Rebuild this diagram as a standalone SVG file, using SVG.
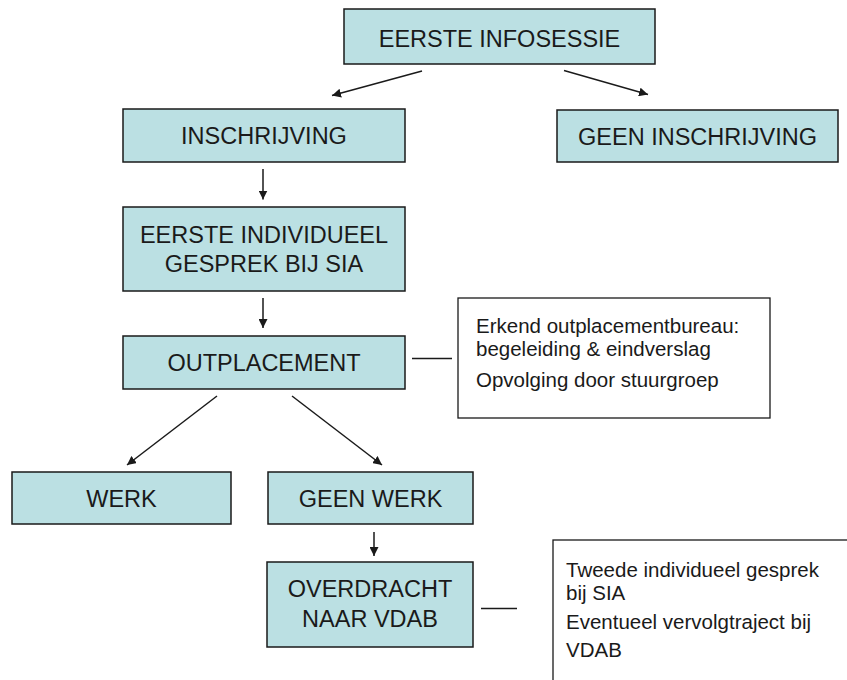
<svg xmlns="http://www.w3.org/2000/svg" width="847" height="680" viewBox="0 0 847 680">
<style>
.box{fill:#bbe0e3;stroke:#1a1a1a;stroke-width:1.5}
.note{fill:#ffffff;stroke:#1a1a1a;stroke-width:1.3}
.t{font-family:"Liberation Sans",Arial,sans-serif;font-size:23.5px;fill:#1a1a1a;text-anchor:middle}
.n{font-family:"Liberation Sans",Arial,sans-serif;font-size:20.5px;fill:#1a1a1a}
.c{stroke:#1a1a1a;stroke-width:1.5;fill:none}
.a{marker-end:url(#arr)}
</style>
<defs>
<marker id="arr" viewBox="0 0 10 10" refX="10" refY="5" markerWidth="6" markerHeight="6" markerUnits="strokeWidth" orient="auto">
<path d="M0,0 L10,5 L0,10 z" fill="#1a1a1a"/>
</marker>
</defs>
<rect width="847" height="680" fill="#ffffff"/>
<g id="connectors">
<line class="c a" x1="422" y1="71" x2="332" y2="95.5"/>
<line class="c a" x1="564" y1="70.5" x2="648" y2="94.5"/>
<line class="c a" x1="263" y1="169" x2="263" y2="199.5"/>
<line class="c a" x1="263" y1="298" x2="263" y2="328"/>
<line class="c a" x1="217" y1="396" x2="127" y2="465"/>
<line class="c a" x1="292" y1="396" x2="382" y2="465"/>
<line class="c a" x1="374" y1="532" x2="374" y2="556"/>
<line class="c" x1="412" y1="358.5" x2="452" y2="358.5"/>
<line class="c" x1="481" y1="608.5" x2="517" y2="608.5"/>
</g>
<g id="n-infosessie">
<rect class="box" x="344" y="9" width="311" height="55"/>
<text class="t" x="499.5" y="46.5">EERSTE INFOSESSIE</text>
</g>
<g id="n-inschrijving">
<rect class="box" x="123" y="109" width="282" height="53"/>
<text class="t" x="264" y="144">INSCHRIJVING</text>
</g>
<g id="n-geen-inschrijving">
<rect class="box" x="557" y="110" width="281" height="52"/>
<text class="t" x="697.5" y="145">GEEN INSCHRIJVING</text>
</g>
<g id="n-gesprek">
<rect class="box" x="123" y="207" width="282" height="84"/>
<text class="t" x="264" y="243">EERSTE INDIVIDUEEL</text>
<text class="t" x="264" y="271.5">GESPREK BIJ SIA</text>
</g>
<g id="n-outplacement">
<rect class="box" x="123" y="336" width="282" height="53"/>
<text class="t" x="264" y="370.5">OUTPLACEMENT</text>
</g>
<g id="n-note1">
<rect class="note" x="458" y="298" width="312" height="120"/>
<text class="n" x="476" y="333">Erkend outplacementbureau:</text>
<text class="n" x="476" y="356">begeleiding &amp; eindverslag</text>
<text class="n" x="476" y="387">Opvolging door stuurgroep</text>
</g>
<g id="n-werk">
<rect class="box" x="12" y="472" width="219" height="52"/>
<text class="t" x="121.5" y="507">WERK</text>
</g>
<g id="n-geen-werk">
<rect class="box" x="268" y="472" width="205" height="52"/>
<text class="t" x="370.5" y="507">GEEN WERK</text>
</g>
<g id="n-overdracht">
<rect class="box" x="267" y="562" width="206" height="85"/>
<text class="t" x="370" y="597">OVERDRACHT</text>
<text class="t" x="370" y="627">NAAR VDAB</text>
</g>
<g id="n-note2">
<rect class="note" x="553" y="540" width="320" height="200"/>
<text class="n" x="566" y="577">Tweede individueel gesprek</text>
<text class="n" x="566" y="600">bij SIA</text>
<text class="n" x="566" y="629">Eventueel vervolgtraject bij</text>
<text class="n" x="566" y="657">VDAB</text>
</g>
</svg>
